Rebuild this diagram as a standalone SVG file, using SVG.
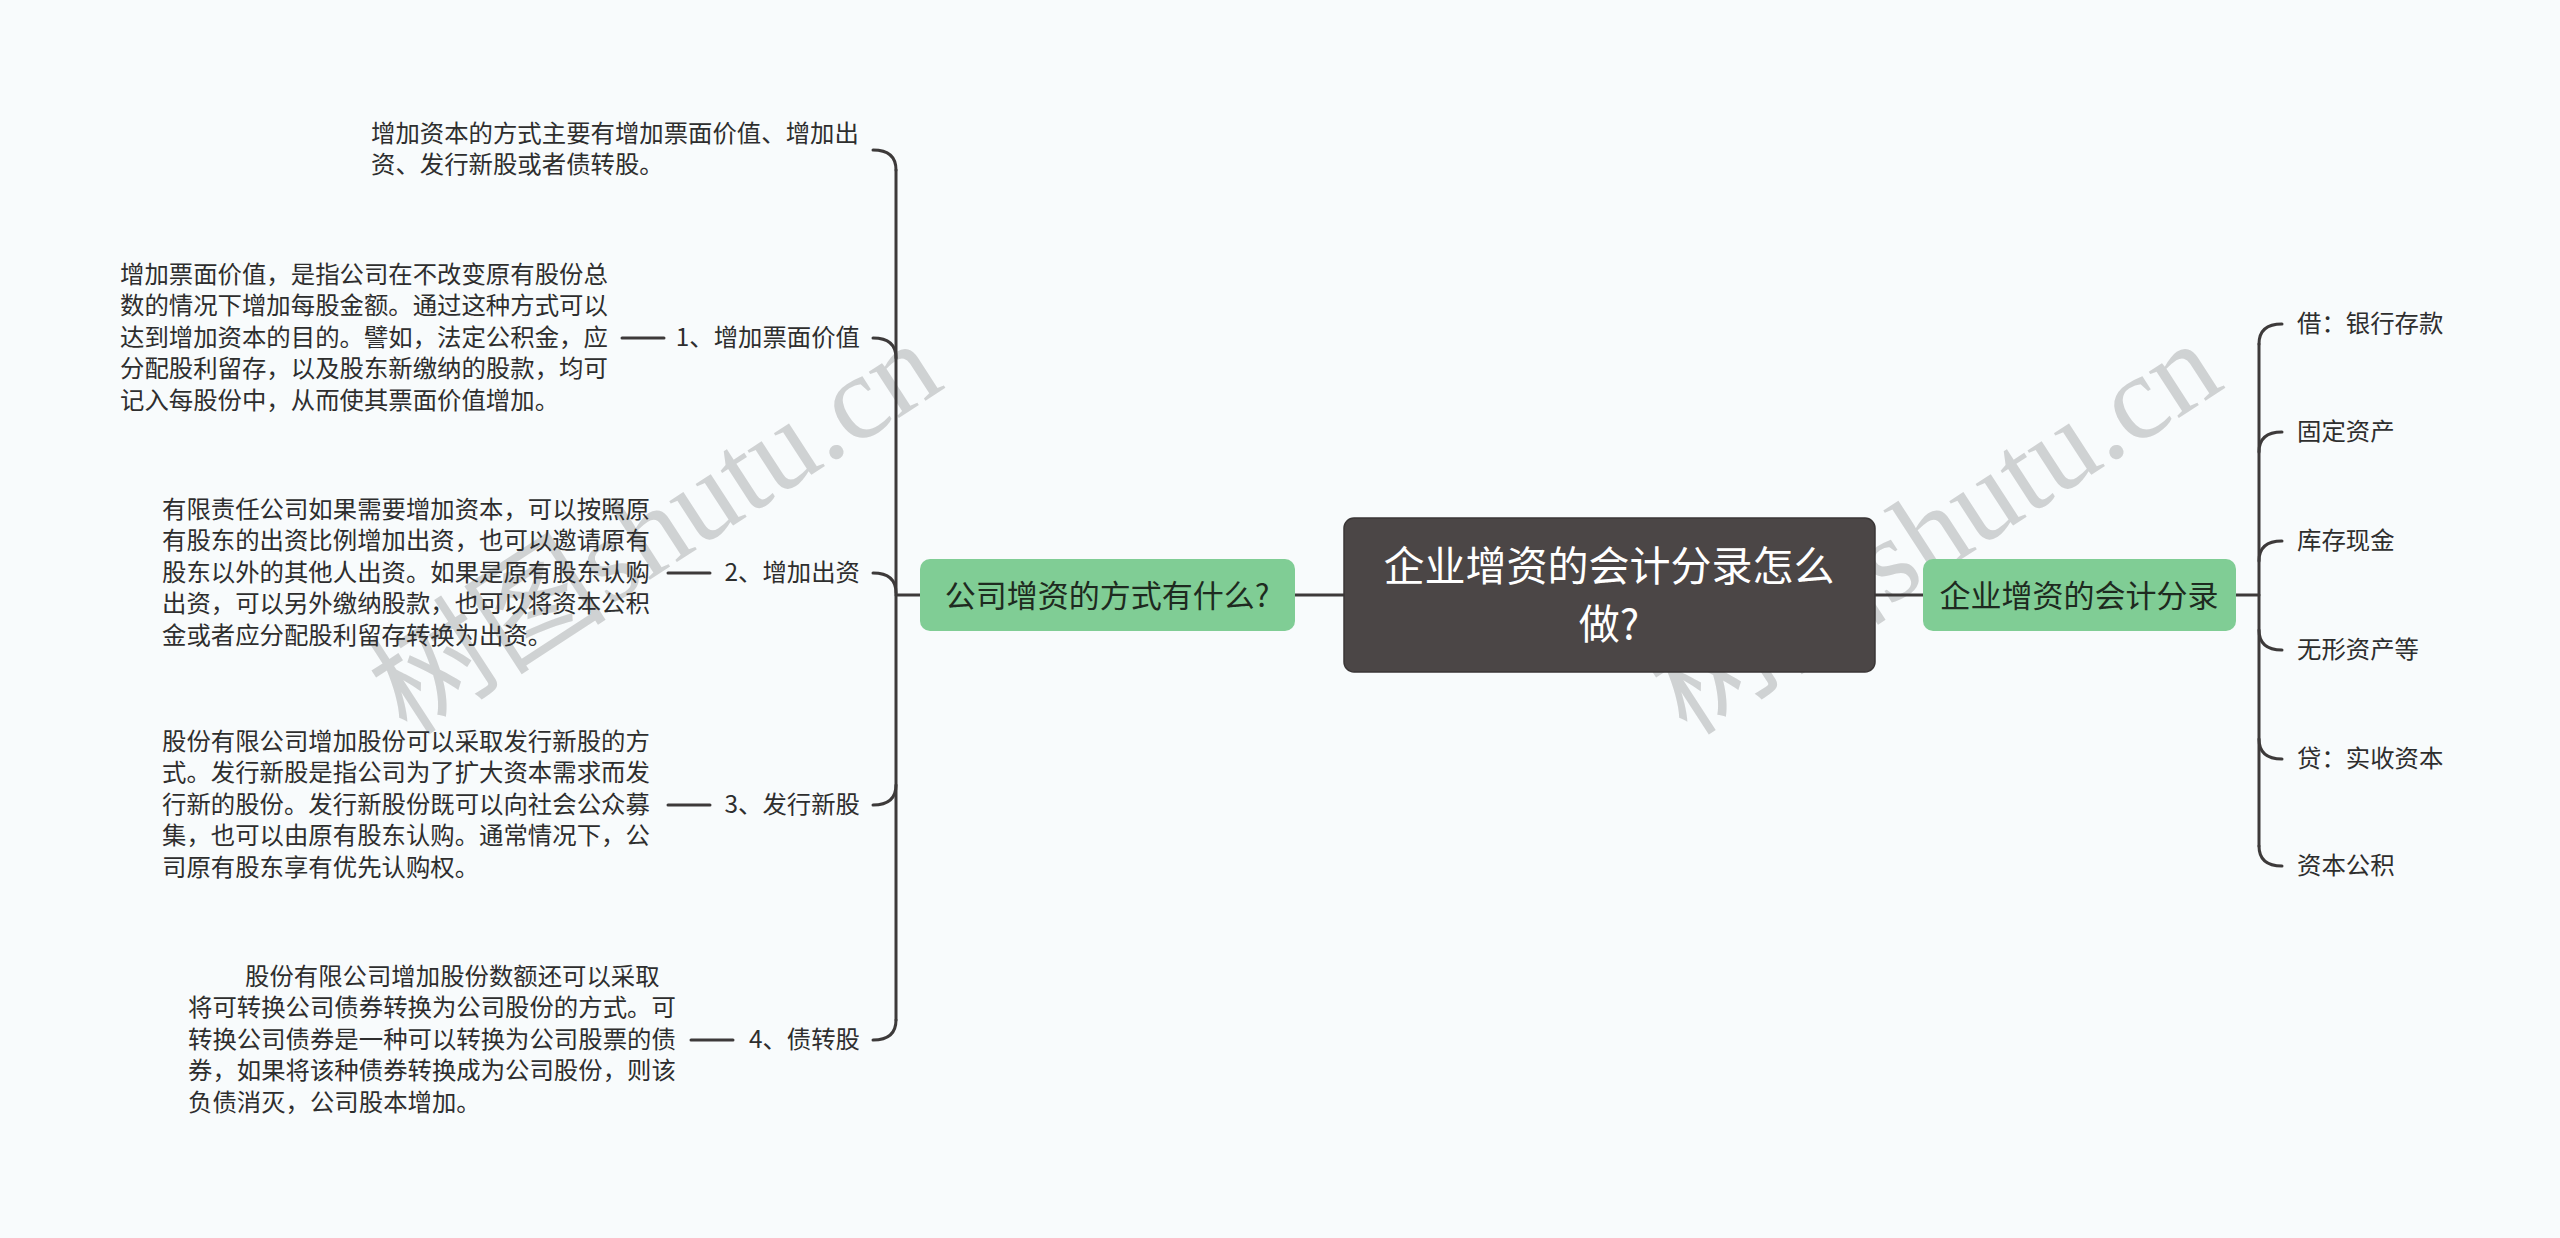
<svg xmlns="http://www.w3.org/2000/svg" width="2560" height="1238" viewBox="0 0 2560 1238">
<style>
.bg{fill:#f8fbfc}
.ln{fill:none;stroke:#3d3a3a;stroke-width:3;stroke-linecap:round}
.t{font-family:"Noto Sans CJK SC","Noto Sans",sans-serif;font-size:24.4px;fill:#2e2e2e;dominant-baseline:central;transform:translate(0px,-3px)}
.lab{text-anchor:end}
.g{fill:#80cd95}
.gt{font-family:"Noto Sans CJK SC","Noto Sans",sans-serif;font-size:31px;fill:#1e2a20;text-anchor:middle;dominant-baseline:central;transform:translate(0px,-3px)}
.ct{font-family:"Noto Sans CJK SC","Noto Sans",sans-serif;font-size:41px;fill:#ffffff;text-anchor:middle;dominant-baseline:central;transform:translate(0px,-3px)}
.wm{font-family:"Liberation Serif","Noto Sans CJK SC",serif;font-size:120px;fill:#c9cbcc;opacity:0.85;text-anchor:middle;dominant-baseline:central}
</style>
<rect class="bg" x="0" y="0" width="2560" height="1238"/>

<g id="watermarks">
<text class="wm" transform="translate(655 528) rotate(-33)">树图shutu.cn</text>
<text class="wm" transform="translate(1935 528) rotate(-33)">树图shutu.cn</text>
</g>

<g id="connectors">
<path class="ln" d="M1295 595 L1344 595"/>
<path class="ln" d="M1875 595 L1923 595"/>
<path class="ln" d="M896 595 L920 595"/>
<path class="ln" d="M2236 595 L2259 595"/>
<path class="ln" d="M896 170 L896 1020"/>
<path class="ln" d="M873 150 Q896 150 896 170"/>
<path class="ln" d="M873 338 Q896 338 896 358"/>
<path class="ln" d="M873 573 Q896 573 896 593"/>
<path class="ln" d="M873 805 Q896 805 896 785"/>
<path class="ln" d="M873 1040 Q896 1040 896 1020"/>
<path class="ln" d="M622 338 L664 338"/>
<path class="ln" d="M668 573 L710 573"/>
<path class="ln" d="M668 805 L710 805"/>
<path class="ln" d="M691 1040 L733 1040"/>
<path class="ln" d="M2259 344 L2259 846"/>
<path class="ln" d="M2282 324 Q2259 324 2259 344"/>
<path class="ln" d="M2282 432 Q2259 432 2259 452"/>
<path class="ln" d="M2282 541 Q2259 541 2259 561"/>
<path class="ln" d="M2282 650 Q2259 650 2259 630"/>
<path class="ln" d="M2282 759 Q2259 759 2259 739"/>
<path class="ln" d="M2282 866 Q2259 866 2259 846"/>
</g>

<g id="root">
<rect x="1344" y="518" width="531" height="154" rx="10" fill="#4b4646" stroke="#3a3636" stroke-width="1.5"/>
<text class="ct" x="1609" y="566">企业增资的会计分录怎么</text>
<text class="ct" x="1609" y="624">做?</text>
</g>

<g id="left-main">
<rect class="g" x="920" y="559" width="375" height="72" rx="10"/>
<text class="gt" x="1107" y="596">公司增资的方式有什么?</text>
</g>

<g id="right-main">
<rect class="g" x="1923" y="559" width="313" height="72" rx="10"/>
<text class="gt" x="2079" y="596">企业增资的会计分录</text>
</g>

<g id="left-top">
<text class="t" x="371" y="134">增加资本的方式主要有增加票面价值、增加出</text>
<text class="t" x="371" y="165.5">资、发行新股或者债转股。</text>
</g>

<g id="left-1">
<text class="t lab" x="860" y="338">1、增加票面价值</text>
</g>
<g id="left-1-desc">
<text class="t" x="120" y="275">增加票面价值，是指公司在不改变原有股份总</text>
<text class="t" x="120" y="306.5">数的情况下增加每股金额。通过这种方式可以</text>
<text class="t" x="120" y="338">达到增加资本的目的。譬如，法定公积金，应</text>
<text class="t" x="120" y="369.5">分配股利留存，以及股东新缴纳的股款，均可</text>
<text class="t" x="120" y="401">记入每股份中，从而使其票面价值增加。</text>
</g>

<g id="left-2">
<text class="t lab" x="860" y="573">2、增加出资</text>
</g>
<g id="left-2-desc">
<text class="t" x="162" y="510">有限责任公司如果需要增加资本，可以按照原</text>
<text class="t" x="162" y="541.5">有股东的出资比例增加出资，也可以邀请原有</text>
<text class="t" x="162" y="573">股东以外的其他人出资。如果是原有股东认购</text>
<text class="t" x="162" y="604.5">出资，可以另外缴纳股款，也可以将资本公积</text>
<text class="t" x="162" y="636">金或者应分配股利留存转换为出资。</text>
</g>

<g id="left-3">
<text class="t lab" x="860" y="805">3、发行新股</text>
</g>
<g id="left-3-desc">
<text class="t" x="162" y="742">股份有限公司增加股份可以采取发行新股的方</text>
<text class="t" x="162" y="773.5">式。发行新股是指公司为了扩大资本需求而发</text>
<text class="t" x="162" y="805">行新的股份。发行新股份既可以向社会公众募</text>
<text class="t" x="162" y="836.5">集，也可以由原有股东认购。通常情况下，公</text>
<text class="t" x="162" y="868">司原有股东享有优先认购权。</text>
</g>

<g id="left-4">
<text class="t lab" x="860" y="1040">4、债转股</text>
</g>
<g id="left-4-desc">
<text class="t" x="245" y="977">股份有限公司增加股份数额还可以采取</text>
<text class="t" x="188" y="1008.5">将可转换公司债券转换为公司股份的方式。可</text>
<text class="t" x="188" y="1040">转换公司债券是一种可以转换为公司股票的债</text>
<text class="t" x="188" y="1071.5">券，如果将该种债券转换成为公司股份，则该</text>
<text class="t" x="188" y="1103">负债消灭，公司股本增加。</text>
</g>

<g id="right-1"><text class="t" x="2297" y="324">借：银行存款</text></g>
<g id="right-2"><text class="t" x="2297" y="432">固定资产</text></g>
<g id="right-3"><text class="t" x="2297" y="541">库存现金</text></g>
<g id="right-4"><text class="t" x="2297" y="650">无形资产等</text></g>
<g id="right-5"><text class="t" x="2297" y="759">贷：实收资本</text></g>
<g id="right-6"><text class="t" x="2297" y="866">资本公积</text></g>
</svg>
